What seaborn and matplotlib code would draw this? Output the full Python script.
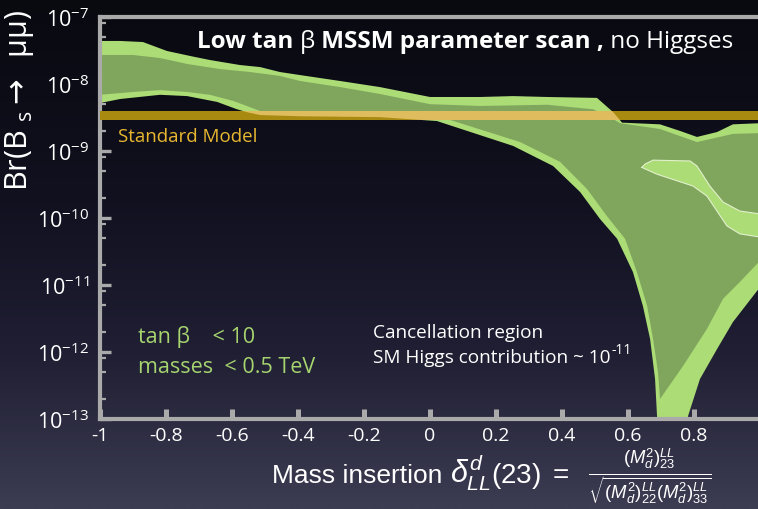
import matplotlib
matplotlib.use("Agg")
import matplotlib.pyplot as plt
import matplotlib.transforms as mtransforms
import numpy as np
import seaborn as sns
from matplotlib.ticker import LogLocator, NullFormatter

# ---------------- values ----------------
# light green envelope of the scan (upper / lower edge)
outer_top_x = [-1.0, -0.939, -0.870, -0.797, -0.727, -0.667, -0.576, -0.515, -0.455, -0.394,
               -0.273, -0.152, 0.0, 0.152, 0.252, 0.355, 0.506, 0.555, 0.582, 0.697, 0.758,
               0.809, 0.870, 0.918, 1.0]
outer_top_y = [4.39e-8, 4.39e-8, 4.23e-8, 3.11e-8, 2.62e-8, 2.28e-8, 1.92e-8, 1.79e-8, 1.51e-8,
               1.36e-8, 1.11e-8, 9.0e-9, 6.4e-9, 6.4e-9, 6.6e-9, 6.4e-9, 6.2e-9, 3.8e-9, 2.65e-9,
               2.5e-9, 1.99e-9, 1.62e-9, 1.92e-9, 2.5e-9, 2.6e-9]
outer_bot_x = [-1.0, -0.939, -0.818, -0.736, -0.645, -0.585, -0.555, -0.515, -0.394, -0.152,
               0.021, 0.252, 0.373, 0.455, 0.515, 0.567, 0.615, 0.645, 0.667, 0.682, 0.688,
               0.692, 0.776, 0.782, 0.818, 0.870, 0.918, 1.0]
outer_bot_y = [5.2e-9, 5.97e-9, 6.9e-9, 6.6e-9, 5.4e-9, 4.2e-9, 3.8e-9, 3.44e-9, 3.3e-9, 3.2e-9,
               2.8e-9, 1.19e-9, 5.97e-10, 2.44e-10, 9.7e-11, 4.9e-11, 1.56e-11, 4.9e-12, 1.56e-12,
               3.95e-13, 1.11e-13, 1e-14, 1e-14, 1.11e-13, 3.95e-13, 1.11e-12, 2.8e-12, 9.3e-12]

# dark green core
inner_top_x = [-1.0, -0.9, -0.818, -0.736, -0.636, -0.545, -0.455, -0.394, -0.273, -0.152, 0.0,
               0.152, 0.355, 0.494, 0.545, 0.576, 0.697, 0.809, 0.918, 1.0]
inner_top_y = [2.71e-8, 2.71e-8, 2.44e-8, 1.99e-8, 1.67e-8, 1.51e-8, 1.32e-8, 1.11e-8, 9.0e-9,
               7.1e-9, 5.0e-9, 4.7e-9, 4.9e-9, 4.2e-9, 3.2e-9, 2.6e-9, 2.13e-9, 1.36e-9, 1.8e-9,
               1.85e-9]
inner_bot_x = [-1.0, -0.9, -0.818, -0.736, -0.667, -0.597, -0.555, -0.515, -0.394, -0.152, 0.052,
               0.273, 0.394, 0.476, 0.536, 0.591, 0.627, 0.658, 0.676, 0.691, 0.697, 0.767,
               0.839, 0.888, 0.939, 1.0]
inner_bot_y = [6.9e-9, 7.6e-9, 8.1e-9, 7.6e-9, 6.9e-9, 5.6e-9, 4.7e-9, 3.95e-9, 3.7e-9, 3.44e-9,
               3.0e-9, 1.36e-9, 6.9e-10, 2.7e-10, 1.07e-10, 4.9e-11, 1.56e-11, 4.9e-12, 1.56e-12,
               5.0e-13, 1.99e-13, 6.2e-13, 2.2e-12, 6.2e-12, 1.11e-11, 2.3e-11]

# light green island inside the core (right side)
island_top_x = [0.642, 0.652, 0.676, 0.788, 0.809, 0.848, 0.888, 0.939, 1.0]
island_top_y = [5.7e-10, 6.4e-10, 7.3e-10, 7.1e-10, 5.97e-10, 3.0e-10, 1.73e-10, 1.27e-10, 1.15e-10]
island_bot_x = [0.652, 0.688, 0.797, 0.839, 0.900, 0.939, 1.0]
island_bot_y = [5.4e-10, 4.5e-10, 3.0e-10, 2.13e-10, 7.6e-11, 5.8e-11, 5.2e-11]

# Standard Model band
sm_low, sm_high = 2.9e-9, 3.95e-9

x_ticks = [-1, -0.8, -0.6, -0.4, -0.2, 0, 0.2, 0.4, 0.6, 0.8, 1]
x_tick_labels = ["-1", "-0.8", "-0.6", "-0.4", "-0.2", "0", "0.2", "0.4", "0.6", "0.8", ""]

# ---------------- style ----------------
sns.set_theme(style="dark")
plt.rcParams["font.family"] = ["Open Sans", "DejaVu Sans"]
plt.rcParams["axes.unicode_minus"] = False
plt.rcParams["mathtext.fontset"] = "custom"
plt.rcParams["mathtext.rm"] = "Liberation Sans"
plt.rcParams["mathtext.it"] = "Liberation Sans:italic"
plt.rcParams["mathtext.bf"] = "Liberation Sans:bold"

light = "#acdc76"
dark = "#80a65e"
gray = "#aaaaaa"
W, H = 758, 510

fig = plt.figure(figsize=(W / 100, H / 100), dpi=100)

# dark blue gradient background
bg = fig.add_axes([0, 0, 1, 1], zorder=-5)
stop_pos = [0.0, 0.4, 0.7, 1.0]
stop_rgb = np.array([[9, 9, 16], [17, 17, 32], [32, 31, 52], [60, 60, 82]]) / 255
rows = np.linspace(0, 1, 300)
grad = np.stack([np.interp(rows, stop_pos, stop_rgb[:, k]) for k in range(3)], axis=-1)
bg.imshow(grad[:, None, :], aspect="auto", interpolation="bilinear")
bg.set_axis_off()

ax = fig.add_axes([100 / W, 1 - 420 / H, 660 / W, 402 / H])
ax.patch.set_visible(False)
ax.set_yscale("log")

outer_poly = ax.fill(np.r_[outer_top_x, outer_bot_x[::-1]], np.r_[outer_top_y, outer_bot_y[::-1]],
                     color=light, lw=0, zorder=1)[0]
ax.fill(np.r_[inner_top_x, inner_bot_x[::-1]], np.r_[inner_top_y, inner_bot_y[::-1]],
        color=dark, lw=0, zorder=2)
isl_x = np.r_[island_top_x, island_bot_x[::-1], island_top_x[:1]]
isl_y = np.r_[island_top_y, island_bot_y[::-1], island_top_y[:1]]
ax.fill(isl_x, isl_y, color=light, lw=0, zorder=3)
sns.lineplot(x=isl_x, y=isl_y, sort=False, estimator=None, color="#e2f0cc", lw=0.8, ax=ax, zorder=3.5)

# SM band: dark gold over background, lighter where it overlaps the scan
ax.axhspan(sm_low, sm_high, color="#a88a10", lw=0, zorder=4)
over = ax.axhspan(sm_low, sm_high, color="#dfbc5e", lw=0, zorder=5)
over.set_clip_path(outer_poly)

ax.set_xlim(-1, 1)
ax.set_ylim(1e-13, 1e-7)
ax.set_xlabel("")
ax.set_ylabel("")

ax.yaxis.set_major_locator(LogLocator(base=10, numticks=10))
ax.yaxis.set_minor_locator(LogLocator(base=10, subs=(2, 5, 8), numticks=10))
ax.yaxis.set_minor_formatter(NullFormatter())
ax.set_xticks(x_ticks)
ax.set_xticklabels(x_tick_labels)
ax.tick_params(axis="y", which="major", direction="in", length=8, width=2.4, color=gray,
               labelcolor="white", labelsize=15.5, pad=8, left=True)
ax.tick_params(axis="y", which="minor", direction="in", length=4, width=1.6, color=gray, left=True)
ax.tick_params(axis="x", which="major", direction="in", length=7, width=3.6, color=gray,
               labelcolor="white", labelsize=14, pad=5, bottom=True)
for s in ["left", "bottom", "top"]:
    ax.spines[s].set_color(gray)
    ax.spines[s].set_linewidth(3)
    ax.spines[s].set_visible(True)
ax.spines["right"].set_visible(False)

# ---------------- texts (pixel positions, y from top) ----------------
px = mtransforms.IdentityTransform()
renderer = fig.canvas.get_renderer()


def run_text(x0, py, pieces, **kw):
    x = x0
    for s, extra in pieces:
        t = fig.text(x, H - py, s, transform=px, va="baseline", **kw, **extra)
        x += t.get_window_extent(renderer).width
    return x


run_text(197, 48, [("Low tan ", {"fontweight": "bold"}), ("β", {}),
                   (" MSSM parameter scan ,", {"fontweight": "bold"}), (" no Higgses", {})],
         fontsize=17.5, color="white")
fig.text(118, H - 142, "Standard Model", transform=px, fontsize=13.5, color="#e8b830", va="baseline")
fig.text(138, H - 343, "tan β    < 10", transform=px, fontsize=15.5, color="#a6d46e", va="baseline")
fig.text(138, H - 373, "masses  < 0.5 TeV", transform=px, fontsize=15.5, color="#a6d46e", va="baseline")
fig.text(373, H - 338, "Cancellation region", transform=px, fontsize=13.7, color="white", va="baseline")
end = run_text(373, 363, [("SM Higgs contribution ~ 10", {})], fontsize=13.7, color="white")
fig.text(end + 1, H - 354, "-11", transform=px, fontsize=10, color="white", va="baseline")
fig.text(20, H - 101, "Br(B $_{\\mathdefault{s}}$$\\rightarrow$  μμ)", transform=px, rotation=90,
         ha="center", va="center", fontsize=22, color="white", math_fontfamily="dejavusans")
run_text(272, 483, [("Mass insertion ", {"fontsize": 19}),
                    (r"$\delta^{d}_{LL}$", {"fontsize": 22}),
                    (r"$(23)\ =$", {"fontsize": 20})],
         fontfamily="Liberation Sans", color="white")
fig.text(588, H - 481,
         r"$\frac{(M^2_d)^{LL}_{23}}{\sqrt{(M^2_d)^{LL}_{22}(M^2_d)^{LL}_{33}}}$",
         transform=px, fontfamily="Liberation Sans", fontsize=19, color="white", va="baseline")

fig.savefig("out.png", dpi=100)
